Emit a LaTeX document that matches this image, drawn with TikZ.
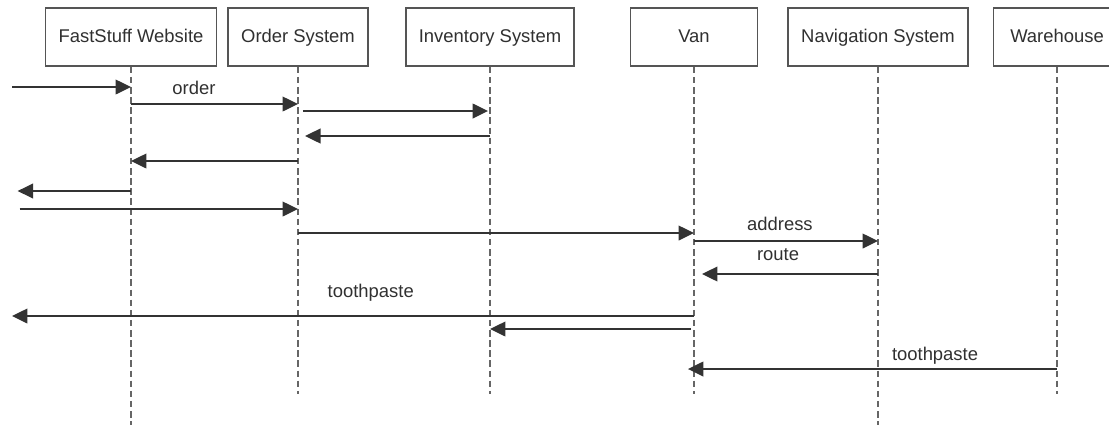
\documentclass[tikz,border=0pt]{standalone}
\usepackage{fontspec}
\setmainfont{Liberation Sans}
\usetikzlibrary{arrows.meta}
\definecolor{ink}{HTML}{303030}
\definecolor{boxedge}{HTML}{555555}
\definecolor{wire}{HTML}{333333}
\definecolor{dashgrey}{HTML}{666666}
\tikzset{
  actor/.style={draw=boxedge, line width=1.1pt, fill=white, text=ink,
    minimum width=3.175cm, minimum height=1.45cm, inner xsep=0.325cm,
    text height=9.5pt, text depth=1pt,
    font=\fontsize{13.1pt}{15pt}\selectfont},
  life/.style={draw=dashgrey, line width=0.9pt, dash pattern=on 4.6pt off 2.6pt},
  msg/.style={draw=wire, line width=1.1pt,
    -{Triangle[length=11pt,width=10.5pt]}},
  lbl/.style={anchor=base, inner sep=0pt, text=ink,
    font=\fontsize{13.1pt}{15pt}\selectfont}
}
\begin{document}
\begin{tikzpicture}[x=0.025cm, y=-0.025cm]
\useasboundingbox (0,0) rectangle (1109,424);
\clip (0,0) rectangle (1109,424);
% heads of the lifelines
\node[actor] (web) at (131,37) {FastStuff Website};
\node[actor] (ord) at (298,37) {Order System};
\node[actor] (inv) at (490,37) {Inventory System};
\node[actor] (van) at (694,37) {Van};
\node[actor] (nav) at (878,37) {Navigation System};
\node[actor] (wh) at (1057,37) {Warehouse};
\coordinate (outside) at (12,0);
% lifelines
\draw[life] (web.south) -- ++(0,358);
\draw[life] (nav.south) -- ++(0,358);
\foreach \a in {ord,inv,van,wh}
  \draw[life] (\a.south) -- ++(0,327);
% messages, top to bottom
\draw[msg] (outside |- 0,87) -- (web |- 0,87);
\draw[msg] (web |- 0,104) -- (ord |- 0,104)
  node[lbl, pos=.377, yshift=.25cm] (m1) {order};
\draw[msg, shorten <=3.5pt, shorten >=1.4pt] (ord |- 0,111) -- (inv |- 0,111);
\draw[msg, shorten >=5pt] (inv |- 0,136) -- (ord |- 0,136);
\draw[msg] (ord |- 0,161) -- (web |- 0,161);
\draw[msg, shorten >=4pt] (web |- 0,191) -- (outside |- 0,191);
\draw[msg, shorten <=5.5pt] (outside |- 0,209) -- (ord |- 0,209);
\draw[msg] (ord |- 0,233) -- (van |- 0,233);
\draw[msg] (van |- 0,241) -- (nav |- 0,241)
  node[lbl, pos=.467, yshift=.275cm] (m2) {address};
\draw[msg, shorten >=5.7pt] (nav |- 0,274) -- (van |- 0,274)
  node[lbl, pos=.543, yshift=.35cm] (m3) {route};
\draw[msg] (van |- 0,316) -- (outside |- 0,316)
  node[lbl, pos=.474, yshift=.475cm] (m4) {toothpaste};
\draw[msg, shorten <=2pt] (van |- 0,329) -- (inv |- 0,329);
\draw[msg, shorten >=-4.3pt] (wh |- 0,369) -- (van |- 0,369)
  node[lbl, pos=.336, yshift=.225cm] (m5) {toothpaste};
\end{tikzpicture}
\end{document}
